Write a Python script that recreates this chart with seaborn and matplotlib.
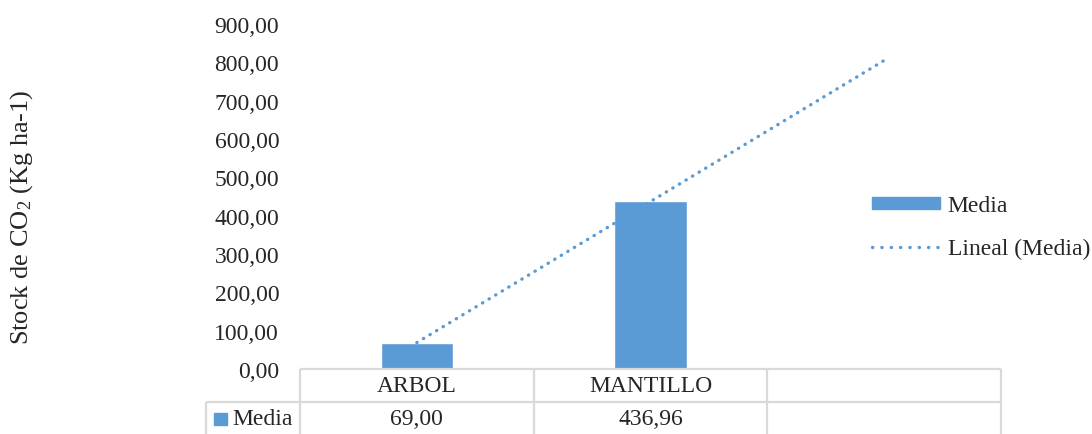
import numpy as np
import pandas as pd
import matplotlib
matplotlib.use("Agg")
import matplotlib.pyplot as plt
from matplotlib.ticker import FuncFormatter
from matplotlib.patches import Rectangle
from matplotlib.lines import Line2D
import seaborn as sns

# Data
categories = ["ARBOL", "MANTILLO"]
media = [69.00, 436.96]
series_name = "Media"
trend_name = "Lineal (Media)"
y_ticks = [0, 100, 200, 300, 400, 500, 600, 700, 800, 900]
y_label = "Stock de CO$_2$ (Kg ha-1)"

BLUE = "#5B9BD5"
GRID = "#D9D9D9"
FS = 17

sns.set_theme(style="white")
plt.rcParams["font.family"] = ["Liberation Serif", "DejaVu Serif"]
plt.rcParams["mathtext.fontset"] = "custom"
plt.rcParams["mathtext.rm"] = "Liberation Serif"
plt.rcParams["mathtext.it"] = "Liberation Serif"

W, H = 1092, 435
fig = plt.figure(figsize=(W / 100, H / 100), dpi=100)

# plot area in pixels
px_left, px_right, px_top, px_bottom = 300, 1001, 25, 370
ax = fig.add_axes([px_left / W, 1 - px_bottom / H,
                   (px_right - px_left) / W, (px_bottom - px_top) / H])

df = pd.DataFrame({"cat": categories, "val": media})
sns.barplot(data=df, x="cat", y="val", color=BLUE, width=0.31,
            saturation=1, ax=ax)

# linear trend extended over the three category slots
pos = np.arange(len(categories))
slope, intercept = np.polyfit(pos, media, 1)
xt = np.array([0, 2])
ax.plot(xt, slope * xt + intercept, color=BLUE, lw=2.4,
        ls=(0, (0.1, 2.2)), dash_capstyle="round")

ax.set_xlim(-0.5, 2.5)
ax.set_ylim(0, 900)
ax.set_yticks(y_ticks)
ax.yaxis.set_major_formatter(FuncFormatter(lambda v, p: f"{v:.2f}".replace(".", ",")))
ax.tick_params(axis="y", length=0, pad=15, labelsize=FS)
ax.set_xticks([])
ax.set_xlabel("")
ax.set_ylabel("")
for s in ax.spines.values():
    s.set_visible(False)
if ax.get_legend() is not None:
    ax.get_legend().remove()

fig.text(22 / W, 1 - 217 / H, y_label, rotation=90, ha="center", va="center",
         fontsize=19)

# data table under the plot
tab = fig.add_axes([px_left / W, 1 - 436 / H, (px_right - px_left) / W, 66 / H])
tab.set_xlim(-0.5, 2.5)
tab.set_ylim(2, 0)
tab.axis("off")
slot_px = (px_right - px_left) / 3
hdr_left = -0.5 - (px_left - 206) / slot_px
kw = dict(color=GRID, lw=1.6, clip_on=False, solid_capstyle="butt")
tab.plot([-0.5, 2.5], [0, 0], **kw)
tab.plot([hdr_left, 2.5], [1, 1], **kw)
for xv in [-0.5, 0.5, 1.5, 2.5]:
    tab.plot([xv, xv], [0, 2.2], **kw)
tab.plot([hdr_left, hdr_left], [1, 2.2], **kw)

for i, (c, v) in enumerate(zip(categories, media)):
    tab.text(i, 0.5, c, ha="center", va="center", fontsize=FS)
    tab.text(i, 1.5, f"{v:.2f}".replace(".", ","), ha="center", va="center",
             fontsize=FS)

key_x0 = hdr_left + 8 / slot_px
tab.add_patch(Rectangle((key_x0, 1.33), 13 / slot_px, 0.38, color=BLUE,
                        clip_on=False))
tab.text(hdr_left + 26 / slot_px, 1.5, series_name, ha="left", va="center",
         fontsize=FS)

# legend
handles = [Rectangle((0, 0), 1, 1, color=BLUE),
           Line2D([0], [0], color=BLUE, lw=2.4, ls=(0, (0.1, 2.7)),
                  dash_capstyle="round")]
fig.legend(handles, [series_name, trend_name], loc="center left",
           bbox_to_anchor=(872 / W, 1 - 228 / H), frameon=False, fontsize=FS,
           handlelength=2.9, handleheight=0.4, handletextpad=0.3,
           labelspacing=0.9, borderaxespad=0, borderpad=0)

fig.savefig("out.png", dpi=100)
